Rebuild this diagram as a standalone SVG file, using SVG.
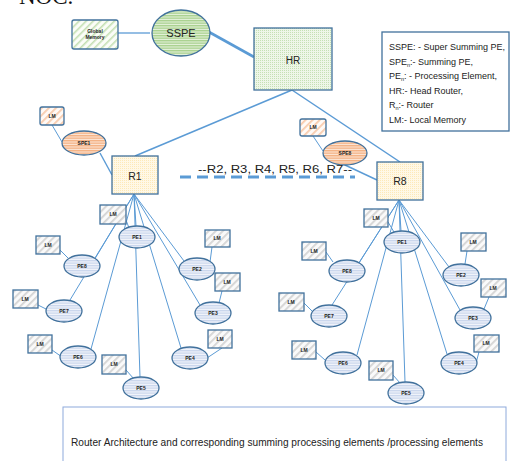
<svg xmlns="http://www.w3.org/2000/svg" width="510" height="461" viewBox="0 0 510 461">
<style>
.ln{stroke:#5b9bd5;stroke-width:1;fill:none}
.bd{stroke:#41719c;stroke-width:1.3}
.pe{fill:url(#hs);stroke:#41719c;stroke-width:1.3}
.lm{fill:url(#dg);stroke:#41719c;stroke-width:1.3}
.t{font-family:"Liberation Sans",Arial,sans-serif;fill:#222}
.s{font-size:5px;font-weight:bold;text-anchor:middle}
</style>
<defs>
<pattern id="hs" width="4" height="2.5" patternUnits="userSpaceOnUse"><rect width="4" height="2.5" fill="#f2f5fb"/><rect width="4" height="1.3" fill="#c9d6ec"/></pattern>
<pattern id="hg" width="4" height="2.5" patternUnits="userSpaceOnUse"><rect width="4" height="2.5" fill="#e6f2dc"/><rect width="4" height="1.4" fill="#a9d18e"/></pattern>
<pattern id="ho" width="4" height="2.5" patternUnits="userSpaceOnUse"><rect width="4" height="2.5" fill="#fde7d8"/><rect width="4" height="1.4" fill="#f4b183"/></pattern>
<pattern id="dg" width="5" height="5" patternUnits="userSpaceOnUse" patternTransform="rotate(-45)"><rect width="5" height="5" fill="#fafafa"/><rect width="5" height="1.8" fill="#d4d4d4"/></pattern>
<pattern id="dgr" width="5" height="5" patternUnits="userSpaceOnUse" patternTransform="rotate(-45)"><rect width="5" height="5" fill="#fbfdf8"/><rect width="5" height="1.6" fill="#c5e0b4"/></pattern>
<pattern id="dor" width="5" height="5" patternUnits="userSpaceOnUse" patternTransform="rotate(-45)"><rect width="5" height="5" fill="#fffaf6"/><rect width="5" height="1.8" fill="#f8cbad"/></pattern>
<pattern id="dy" width="2" height="2" patternUnits="userSpaceOnUse"><rect width="2" height="2" fill="#fff8e6"/><rect width="1" height="1" fill="#fde9b8"/></pattern>
<pattern id="dgn" width="2" height="2" patternUnits="userSpaceOnUse"><rect width="2" height="2" fill="#eef6e8"/><rect width="1" height="1" fill="#c5e0b4"/></pattern>
</defs>
<rect width="510" height="461" fill="#fff"/>
<text x="19" y="4" font-family="Liberation Serif,serif" font-size="23" fill="#111">NOC.</text>

<g id="connectors">
<line class="ln" x1="118" y1="33" x2="150" y2="33" style="stroke-width:1.3"/>
<line class="ln" x1="209" y1="32" x2="254" y2="57" style="stroke-width:2.6"/>
<line class="ln" x1="292" y1="90" x2="135" y2="156" style="stroke-width:1.5"/>
<line class="ln" x1="292" y1="90" x2="400" y2="162" style="stroke-width:1.5"/>
<line class="ln" x1="52" y1="125" x2="62" y2="142"/>
<line class="ln" x1="100" y1="153" x2="112" y2="175" style="stroke-width:1.4"/>
<line class="ln" x1="313" y1="136" x2="323" y2="151"/>
<line class="ln" x1="345" y1="165" x2="377" y2="180" style="stroke-width:1.4"/>
<line class="ln" x1="180" y1="177" x2="355" y2="177" style="stroke-width:3;stroke-dasharray:11,6"/>
<!-- R1 fan -->
<line class="ln" x1="134" y1="194" x2="136" y2="226"/>
<line class="ln" x1="134" y1="194" x2="184" y2="261"/>
<line class="ln" x1="134" y1="194" x2="200" y2="305"/>
<line class="ln" x1="134" y1="194" x2="181" y2="348"/>
<line class="ln" x1="134" y1="194" x2="140" y2="377"/>
<line class="ln" x1="134" y1="194" x2="91" y2="349"/>
<line class="ln" x1="134" y1="194" x2="70" y2="300"/>
<line class="ln" x1="134" y1="194" x2="95" y2="258"/>
<line class="ln" x1="126" y1="220" x2="129" y2="228"/>
<line class="ln" x1="212" y1="247" x2="210" y2="262"/>
<line class="ln" x1="222" y1="291" x2="219" y2="303"/>
<line class="ln" x1="222" y1="348" x2="207" y2="358"/>
<line class="ln" x1="126" y1="370" x2="134" y2="379"/>
<line class="ln" x1="52" y1="350" x2="62" y2="357"/>
<line class="ln" x1="38" y1="305" x2="48" y2="310"/>
<line class="ln" x1="60" y1="250" x2="68" y2="258"/>
<!-- R8 fan -->
<line class="ln" x1="399" y1="200" x2="401" y2="231"/>
<line class="ln" x1="399" y1="200" x2="449" y2="267"/>
<line class="ln" x1="399" y1="200" x2="460" y2="310"/>
<line class="ln" x1="399" y1="200" x2="447" y2="354"/>
<line class="ln" x1="399" y1="200" x2="405" y2="382"/>
<line class="ln" x1="399" y1="200" x2="357" y2="355"/>
<line class="ln" x1="399" y1="200" x2="332" y2="305"/>
<line class="ln" x1="399" y1="200" x2="359" y2="263"/>
<line class="ln" x1="388" y1="222" x2="394" y2="232"/>
<line class="ln" x1="467" y1="251" x2="465" y2="264"/>
<line class="ln" x1="489" y1="297" x2="484" y2="309"/>
<line class="ln" x1="479" y1="352" x2="476" y2="363"/>
<line class="ln" x1="393" y1="375" x2="400" y2="383"/>
<line class="ln" x1="316" y1="352" x2="325" y2="360"/>
<line class="ln" x1="304" y1="303" x2="313" y2="312"/>
<line class="ln" x1="326" y1="252" x2="333" y2="262"/>
</g>

<g id="global-memory"><rect x="72" y="20" width="46" height="29" rx="2" fill="url(#dgr)" class="bd"/>
<text class="t s" x="95" y="33" font-size="4.5">Global</text><text class="t s" x="95" y="39" font-size="4.5">Memory</text></g>
<g id="sspe"><ellipse cx="181" cy="33" rx="29" ry="23" fill="url(#hg)" class="bd"/><text class="t" x="181" y="37" font-size="11" text-anchor="middle">SSPE</text></g>
<g id="hr"><rect x="254" y="28" width="78" height="62" fill="url(#dgn)" class="bd"/><text class="t" x="293" y="64" font-size="10" text-anchor="middle">HR</text></g>

<g id="legend"><rect x="382" y="32" width="127" height="99" fill="#fff" class="bd"/>
<g class="t" font-size="9">
<text x="389" y="50">SSPE: - Super Summing PE,</text>
<text x="389" y="65">SPE<tspan font-size="5.5" dy="2">n</tspan><tspan dy="-2">:- Summing PE,</tspan></text>
<text x="389" y="79">PE<tspan font-size="5.5" dy="2">n</tspan><tspan dy="-2">: - Processing Element,</tspan></text>
<text x="389" y="94">HR:- Head Router,</text>
<text x="389" y="108">R<tspan font-size="5.5" dy="2">n</tspan><tspan dy="-2">:- Router</tspan></text>
<text x="389" y="123">LM:- Local Memory</text>
</g></g>

<g id="lm-spe1"><rect x="40" y="107" width="24" height="18" rx="2" fill="url(#dor)" class="bd"/><text class="t s" x="52" y="118">LM</text></g>
<g id="spe1"><ellipse cx="84" cy="143" rx="22" ry="12" fill="url(#ho)" class="bd"/><text class="t s" x="84" y="145">SPE1</text></g>
<g id="r1"><rect x="112" y="156" width="46" height="38" fill="url(#dy)" class="bd"/><text class="t" x="135" y="180" font-size="10.5" text-anchor="middle">R1</text></g>
<g id="lm-spe8"><rect x="300" y="119" width="26" height="17" rx="2" fill="url(#dor)" class="bd"/><text class="t s" x="313" y="129">LM</text></g>
<g id="spe8"><ellipse cx="345" cy="153" rx="22" ry="12" fill="url(#ho)" class="bd"/><text class="t s" x="345" y="155">SPE8</text></g>
<g id="r8"><rect x="377" y="162" width="46" height="38" fill="url(#dy)" class="bd"/><text class="t" x="400" y="185" font-size="10.5" text-anchor="middle">R8</text></g>
<text id="routers-label" class="t" x="198" y="173" font-size="10.5" textLength="154" lengthAdjust="spacingAndGlyphs">--R2, R3, R4, R5, R6, R7--</text>

<!-- left PEs -->
<g id="l-pe1"><rect x="100" y="205" width="26" height="19" class="lm"/><text class="t s" x="113" y="216">LM</text><ellipse cx="137" cy="237" rx="18" ry="11" class="pe"/><text class="t s" x="137" y="239">PE1</text></g>
<g id="l-pe2"><rect x="205" y="230" width="25" height="17" class="lm"/><text class="t s" x="217" y="240">LM</text><ellipse cx="197" cy="269" rx="18" ry="11" class="pe"/><text class="t s" x="197" y="271">PE2</text></g>
<g id="l-pe3"><rect x="215" y="273" width="25" height="18" class="lm"/><text class="t s" x="227" y="284">LM</text><ellipse cx="213" cy="313" rx="18" ry="11" class="pe"/><text class="t s" x="213" y="315">PE3</text></g>
<g id="l-pe4"><rect x="208" y="330" width="24" height="18" class="lm"/><text class="t s" x="220" y="341">LM</text><ellipse cx="190" cy="358" rx="18" ry="11" class="pe"/><text class="t s" x="190" y="360">PE4</text></g>
<g id="l-pe5"><rect x="102" y="355" width="24" height="19" class="lm"/><text class="t s" x="114" y="366">LM</text><ellipse cx="141" cy="388" rx="18" ry="11" class="pe"/><text class="t s" x="141" y="390">PE5</text></g>
<g id="l-pe6"><rect x="28" y="335" width="24" height="18" class="lm"/><text class="t s" x="40" y="346">LM</text><ellipse cx="78" cy="357" rx="18" ry="11" class="pe"/><text class="t s" x="78" y="359">PE6</text></g>
<g id="l-pe7"><rect x="13" y="290" width="25" height="18" class="lm"/><text class="t s" x="25" y="301">LM</text><ellipse cx="64" cy="311" rx="18" ry="11" class="pe"/><text class="t s" x="64" y="313">PE7</text></g>
<g id="l-pe8"><rect x="36" y="236" width="24" height="18" class="lm"/><text class="t s" x="48" y="247">LM</text><ellipse cx="82" cy="266" rx="18" ry="11" class="pe"/><text class="t s" x="82" y="268">PE8</text></g>

<!-- right PEs -->
<g id="r-pe1"><rect x="364" y="209" width="24" height="18" class="lm"/><text class="t s" x="376" y="220">LM</text><ellipse cx="402" cy="242" rx="18" ry="11" class="pe"/><text class="t s" x="402" y="244">PE1</text></g>
<g id="r-pe2"><rect x="461" y="233" width="25" height="18" class="lm"/><text class="t s" x="473" y="244">LM</text><ellipse cx="461" cy="275" rx="18" ry="11" class="pe"/><text class="t s" x="461" y="277">PE2</text></g>
<g id="r-pe3"><rect x="481" y="279" width="25" height="18" class="lm"/><text class="t s" x="493" y="290">LM</text><ellipse cx="473" cy="318" rx="18" ry="11" class="pe"/><text class="t s" x="473" y="320">PE3</text></g>
<g id="r-pe4"><rect x="474" y="335" width="25" height="17" class="lm"/><text class="t s" x="486" y="345">LM</text><ellipse cx="459" cy="363" rx="18" ry="11" class="pe"/><text class="t s" x="459" y="365">PE4</text></g>
<g id="r-pe5"><rect x="369" y="361" width="24" height="19" class="lm"/><text class="t s" x="381" y="372">LM</text><ellipse cx="406" cy="393" rx="18" ry="11" class="pe"/><text class="t s" x="406" y="395">PE5</text></g>
<g id="r-pe6"><rect x="292" y="341" width="24" height="18" class="lm"/><text class="t s" x="304" y="352">LM</text><ellipse cx="343" cy="363" rx="18" ry="11" class="pe"/><text class="t s" x="343" y="365">PE6</text></g>
<g id="r-pe7"><rect x="279" y="293" width="25" height="18" class="lm"/><text class="t s" x="291" y="304">LM</text><ellipse cx="329" cy="316" rx="18" ry="11" class="pe"/><text class="t s" x="329" y="318">PE7</text></g>
<g id="r-pe8"><rect x="302" y="242" width="24" height="18" class="lm"/><text class="t s" x="314" y="253">LM</text><ellipse cx="347" cy="271" rx="18" ry="11" class="pe"/><text class="t s" x="347" y="273">PE8</text></g>

<g id="caption"><rect x="63" y="407" width="443" height="70" fill="#fff" stroke="#8eaadb" stroke-width="1"/>
<text class="t" x="71" y="446" font-size="10" textLength="412" lengthAdjust="spacingAndGlyphs">Router Architecture and corresponding summing processing elements /processing elements</text></g>
</svg>
